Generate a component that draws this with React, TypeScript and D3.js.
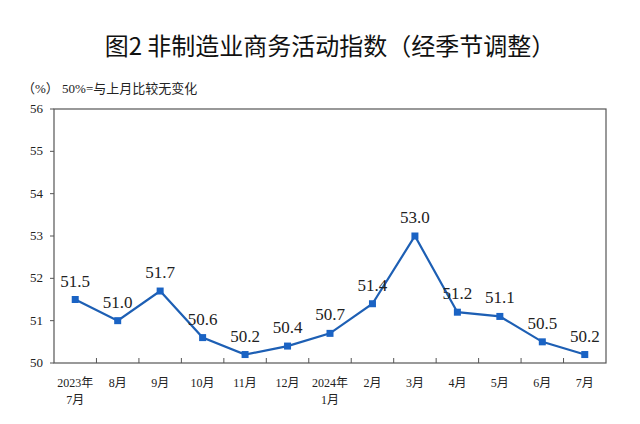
import React from "react";
import * as d3 from "d3";

const months = ["2023年\n7月", "8月", "9月", "10月", "11月", "12月", "2024年\n1月", "2月", "3月", "4月", "5月", "6月", "7月"];
const values = [51.5, 51.0, 51.7, 50.6, 50.2, 50.4, 50.7, 51.4, 53.0, 51.2, 51.1, 50.5, 50.2];
const yTicks = [50, 51, 52, 53, 54, 55, 56];

const width = 640;
const height = 424;
const margin = { top: 109, right: 34, bottom: 60, left: 54 };

const serif = "'Liberation Serif', 'Times New Roman', 'Noto Sans CJK SC', serif";
const cjk = "'Liberation Serif', 'Noto Sans CJK SC', serif";

const App: React.FC = () => {
  const x = d3
    .scaleBand<number>()
    .domain(d3.range(months.length))
    .range([margin.left, width - margin.right]);

  const y = d3
    .scaleLinear()
    .domain([50, 56])
    .range([height - margin.bottom - 1, margin.top]);

  const cx = (i: number) => (x(i) as number) + x.bandwidth() / 2;

  const line = d3
    .line<number>()
    .x((d, i) => cx(i))
    .y((d) => y(d));

  const x0 = margin.left;
  const x1 = width - margin.right;
  const yBottom = y(50);
  const yTop = y(56);

  return (
    <svg width={width} height={height} style={{ position: "absolute", left: 0, top: 0, background: "#fff" }}>
      <text x={330} y={55} textAnchor="middle" fontSize={24} fontFamily="'Noto Sans CJK SC', sans-serif" fontWeight={400} fill="#111">
        图2 非制造业商务活动指数（经季节调整）
      </text>
      <text x={22} y={93} fontSize={13} fontFamily={cjk} fill="#222">
        （%） 50%=与上月比较无变化
      </text>

      <rect x={x0} y={yTop} width={x1 - x0} height={yBottom - yTop} fill="none" stroke="#555" strokeWidth={1.2} />

      {yTicks.map((t) => (
        <g key={t}>
          <line x1={x0 - 4} x2={x0} y1={y(t)} y2={y(t)} stroke="#555" />
          <text x={43} y={y(t) + 4} textAnchor="end" fontSize={13} fontFamily={serif} fill="#222">
            {t}
          </text>
        </g>
      ))}

      {months.map((m, i) =>
        i > 0 ? (
          <line key={"t" + i} x1={x(i)} x2={x(i)} y1={yBottom} y2={yBottom - 5} stroke="#555" />
        ) : null
      )}

      {months.map((m, i) => {
        const parts = m.split("\n");
        return (
          <text key={"l" + i} textAnchor="middle" fontSize={12} fontFamily={cjk} fill="#222">
            {parts.map((p, j) => (
              <tspan key={j} x={cx(i)} y={387 + j * 17}>
                {p}
              </tspan>
            ))}
          </text>
        );
      })}

      <path d={line(values) ?? ""} fill="none" stroke="#1d5fb4" strokeWidth={2.2} />

      {values.map((v, i) => (
        <rect key={"m" + i} x={cx(i) - 3.5} y={y(v) - 3.5} width={7} height={7} fill="#1a63c4" />
      ))}

      {values.map((v, i) => (
        <text key={"v" + i} x={cx(i)} y={y(v) - 13} textAnchor="middle" fontSize={17} fontFamily={serif} fill="#222">
          {v.toFixed(1)}
        </text>
      ))}
    </svg>
  );
};

export default App;
